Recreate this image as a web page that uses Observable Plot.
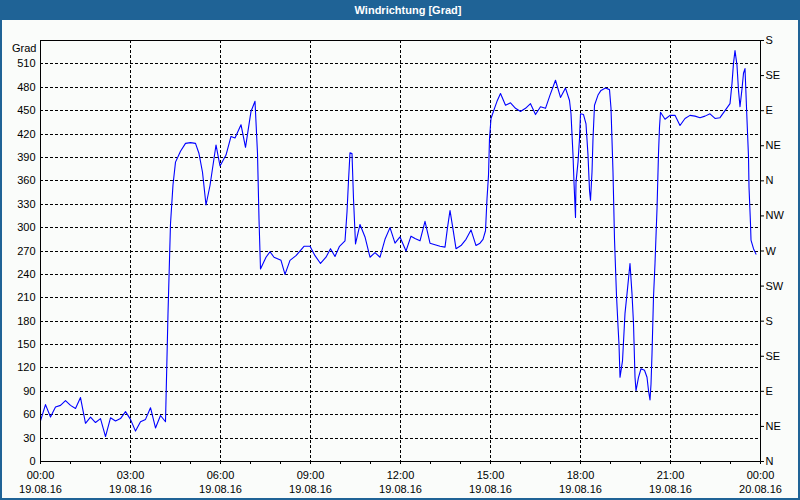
<!DOCTYPE html>
<html>
<head>
<meta charset="utf-8">
<script src="https://cdn.jsdelivr.net/npm/d3@7"></script>
<script src="https://cdn.jsdelivr.net/npm/@observablehq/plot@0.6"></script>
<style>
  html, body { margin: 0; padding: 0; background: #fafcfa; }
  #wrap { position: relative; width: 800px; height: 500px; background: #fafcfa; overflow: hidden; }
  #title { position: absolute; left: 0; top: 0; width: 800px; height: 20px; background: #1f6396;
           color: #fff; font: bold 11px "Liberation Sans", Arial, sans-serif; line-height: 20px;
           text-align: center; box-sizing: border-box; padding-left: 16px; }
  #chart { position: absolute; left: 0; top: 20px; }
  #border { position: absolute; left: 0; top: 0; width: 800px; height: 500px; box-sizing: border-box;
            border: 2px solid #1f6396; pointer-events: none; }
</style>
</head>
<body>
<div id="wrap">
  <div id="title">Windrichtung [Grad]</div>
  <div id="chart"></div>
  <div id="border"></div>
</div>
<script>
// time in minutes since 19.08.16 00:00
const times = [0,10,20,30,40,50,60,70,80,90,100,110,120,130,140,150,160,170,180,190,200,210,220,230,240,250,
  255,260,265,270,280,290,300,310,317,324,331,339,345,351,359,371,381,389,401,410,421,429,434,437,440,451,459,467,
  481,489,499,511,527,539,549,560,571,580,589,598,609,613,616,619,623,626,630,639,649,659,669,679,689,699,709,719,
  731,741,749,759,769,779,789,799,809,814,819,825,831,841,851,861,871,879,885,890,893,896,898,901,908,913,920,930,
  940,950,960,970,980,990,1000,1010,1019,1030,1040,1050,1058,1061,1065,1067,1070,1071,1075,1078,1080,1086,1091,
  1095,1098,1100,1103,1105,1108,1115,1121,1130,1138,1141,1145,1148,1152,1155,1157,1159,1164,1169,1173,1177,1179,
  1183,1186,1189,1191,1196,1201,1208,1213,1216,1219,1221,1223,1226,1229,1233,1236,1238,1240,1249,1259,1269,1279,
  1289,1299,1309,1319,1329,1339,1349,1359,1369,1379,1383,1386,1389,1393,1396,1399,1403,1406,1409,1413,1416,1417,
  1420,1421,1426,1431];
const values = [52,73,57,70,72,78,72,68,82,49,57,50,55,32,56,52,55,64,54,39,51,54,69,43,59,51,
  190,305,355,384,398,408,409,408,395,371,329,354,380,406,379,393,417,415,432,403,449,462,395,311,247,262,269,262,
  258,240,258,264,276,276,264,254,262,273,263,276,283,320,360,396,395,337,279,304,288,262,268,262,285,300,280,288,
  270,289,286,283,308,280,278,276,275,300,322,298,273,277,285,297,277,280,285,296,337,367,414,440,453,462,472,457,
  460,453,449,453,459,445,455,453,470,489,467,479,463,446,393,358,313,358,384,414,446,445,433,
  393,348,335,371,414,457,470,476,479,477,453,371,285,213,174,150,108,129,190,215,241,254,
  215,177,108,91,108,119,117,108,91,79,99,138,211,254,324,395,429,448,439,444,444,431,
  440,444,443,441,443,446,440,441,450,459,485,511,527,508,476,455,478,498,504,438,391,352,
  305,284,273,266];

const leftTicks = [0,30,60,90,120,150,180,210,240,270,300,330,360,390,420,450,480,510];
const gridY = [30,60,90,120,150,180,210,240,270,300,330,360,390,420,450,480,510];
const rightTicks = [0,45,90,135,180,225,270,315,360,405,450,495,540];
const rightLabels = ["N","NE","E","SE","S","SW","W","NW","N","NE","E","SE","S"];
const xTicks = [0,180,360,540,720,900,1080,1260,1440];
const xTimeLabels = ["00:00","03:00","06:00","09:00","12:00","15:00","18:00","21:00","00:00"];
const xDateLabels = ["19.08.16","19.08.16","19.08.16","19.08.16","19.08.16","19.08.16","19.08.16","19.08.16","20.08.16"];
const gridX = [180,360,540,720,900,1080,1260];
const hourTicks = d3.range(0, 1441, 60);

const data = times.map((t, i) => ({t, v: values[i]}));

const chart = Plot.plot({
  width: 800,
  height: 480,
  marginTop: 20,
  marginBottom: 39,
  marginLeft: 40,
  marginRight: 40,
  style: {fontFamily: "'Liberation Sans', Arial, sans-serif", fontSize: "11px", background: "transparent", color: "#000", overflow: "visible"},
  x: {domain: [0, 1440]},
  y: {domain: [0, 540]},
  marks: [
    Plot.ruleY(gridY, {stroke: "#000", strokeDasharray: "3,2", shapeRendering: "crispEdges"}),
    Plot.ruleX(gridX, {stroke: "#000", strokeDasharray: "3,2", shapeRendering: "crispEdges"}),
    Plot.line(data, {x: "t", y: "v", stroke: "#0000ff", strokeWidth: 1.1}),
    Plot.frame({stroke: "#000", shapeRendering: "crispEdges"}),
    Plot.axisY({ticks: leftTicks, anchor: "left", tickSize: 0, tickPadding: 5, label: null}),
    Plot.axisY({ticks: rightTicks, anchor: "right", tickSize: 3, tickPadding: 2, label: null,
      tickFormat: d => rightLabels[rightTicks.indexOf(d)]}),
    Plot.axisX({ticks: hourTicks, anchor: "bottom", tickSize: 3, tickFormat: () => "", label: null, shapeRendering: "crispEdges"}),
    Plot.axisX({ticks: xTicks, anchor: "bottom", tickSize: 0, tickPadding: 8, label: null, lineHeight: 1.25,
      tickFormat: d => xTimeLabels[xTicks.indexOf(d)] + "\n" + xDateLabels[xTicks.indexOf(d)]}),
    Plot.text(["Grad"], {text: d => d, frameAnchor: "top-left", textAnchor: "end", dx: -4, dy: 4})
  ]
});
document.getElementById("chart").appendChild(chart);
</script>
</body>
</html>
